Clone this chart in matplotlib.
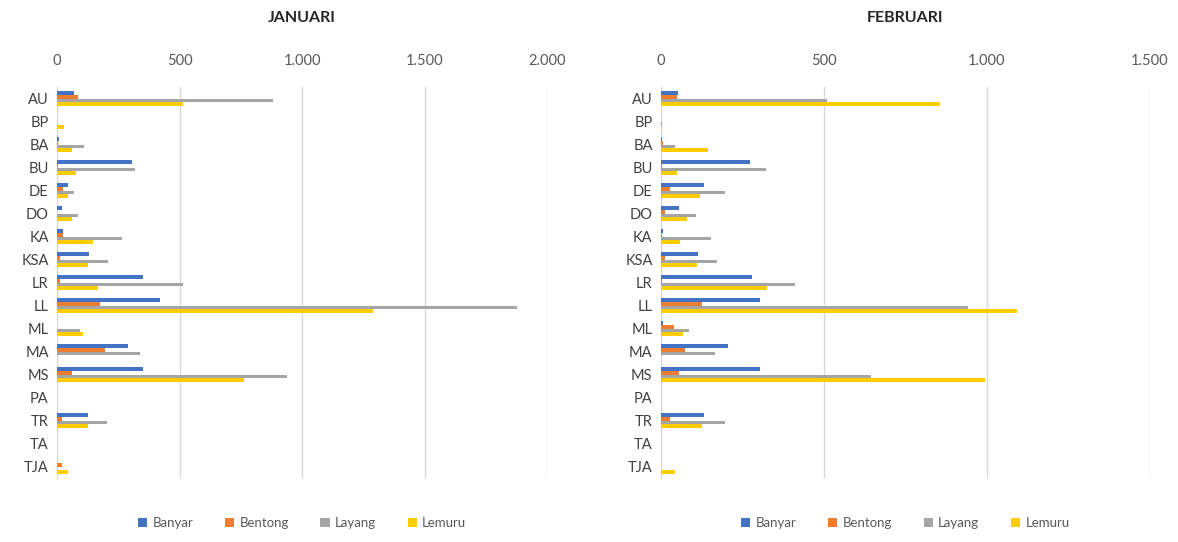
import matplotlib
matplotlib.use('Agg')
import matplotlib.pyplot as plt
import numpy as np
from matplotlib.ticker import FuncFormatter

plt.rcParams['font.family'] = ['Lato', 'DejaVu Sans']

categories = ['AU', 'BP', 'BA', 'BU', 'DE', 'DO', 'KA', 'KSA', 'LR', 'LL',
              'ML', 'MA', 'MS', 'PA', 'TR', 'TA', 'TJA']
series = ['Banyar', 'Bentong', 'Layang', 'Lemuru']
colors = ['#4472C4', '#ED7D31', '#A5A5A5', '#FFCC00']

# Januari
jan_banyar = [70, 0, 8, 305, 45, 20, 25, 130, 352, 420, 0, 290, 352, 0, 128, 0, 0]
jan_bentong = [86, 0, 5, 3, 25, 0, 25, 12, 12, 175, 0, 195, 60, 0, 20, 0, 20]
jan_layang = [882, 0, 112, 320, 69, 86, 265, 208, 515, 1878, 94, 339, 937, 0, 203, 0, 0]
jan_lemuru = [516, 28, 62, 78, 45, 61, 148, 126, 168, 1290, 108, 0, 765, 0, 128, 0, 45]

# Februari
feb_banyar = [52, 0, 3, 273, 132, 55, 8, 114, 279, 304, 6, 205, 304, 0, 132, 0, 0]
feb_bentong = [50, 0, 8, 3, 28, 12, 4, 12, 5, 125, 40, 73, 55, 0, 28, 0, 0]
feb_layang = [509, 5, 43, 322, 196, 107, 153, 172, 411, 942, 85, 166, 644, 0, 196, 0, 0]
feb_lemuru = [856, 5, 145, 49, 120, 80, 58, 110, 325, 1092, 68, 0, 994, 0, 125, 0, 43]

jan = [jan_banyar, jan_bentong, jan_layang, jan_lemuru]
feb = [feb_banyar, feb_bentong, feb_layang, feb_lemuru]


def dot_thousands(v, pos):
    return '{:,.0f}'.format(v).replace(',', '.')


def draw_panel(ax, data, title, xmax, step):
    y = np.arange(len(categories))
    h = 0.16
    offsets = [-1.5 * h, -0.5 * h, 0.5 * h, 1.5 * h]
    for vals, off, col, name in zip(data, offsets, colors, series):
        ax.barh(y + off, vals, height=h, color=col, label=name, zorder=3)
    ax.set_yticks(y)
    ax.set_yticklabels(categories, fontsize=10.5, color='#404040')
    ax.set_ylim(len(categories) - 0.5, -0.5)
    ax.set_xlim(0, xmax)
    ax.set_xticks(np.arange(0, xmax + 1, step))
    ax.xaxis.set_major_formatter(FuncFormatter(dot_thousands))
    ax.xaxis.tick_top()
    ax.tick_params(axis='x', length=0, pad=14, labelsize=10.5, labelcolor='#595959')
    ax.tick_params(axis='y', length=0, pad=6)
    ax.grid(axis='x', color='#D9D9D9', linewidth=1, zorder=0)
    for s in ['top', 'right', 'bottom']:
        ax.spines[s].set_visible(False)
    ax.spines['left'].set_color('#D9D9D9')
    ax.set_title(title, fontsize=11.5, fontweight='bold', color='#262626', pad=47)
    ax.legend(loc='upper center', bbox_to_anchor=(0.5, -0.07), ncol=4,
              frameon=False, fontsize=9.5, handlelength=0.7, handleheight=0.7,
              columnspacing=2.4, handletextpad=0.4, labelcolor='#595959')


fig = plt.figure(figsize=(11.78, 5.42), dpi=100)
ax1 = fig.add_axes([0.0484, 0.118, 0.416, 0.721])
ax2 = fig.add_axes([0.561, 0.118, 0.415, 0.721])

draw_panel(ax1, jan, 'JANUARI', 2000, 500)
draw_panel(ax2, feb, 'FEBRUARI', 1500, 500)

fig.savefig('out.png', dpi=100)
